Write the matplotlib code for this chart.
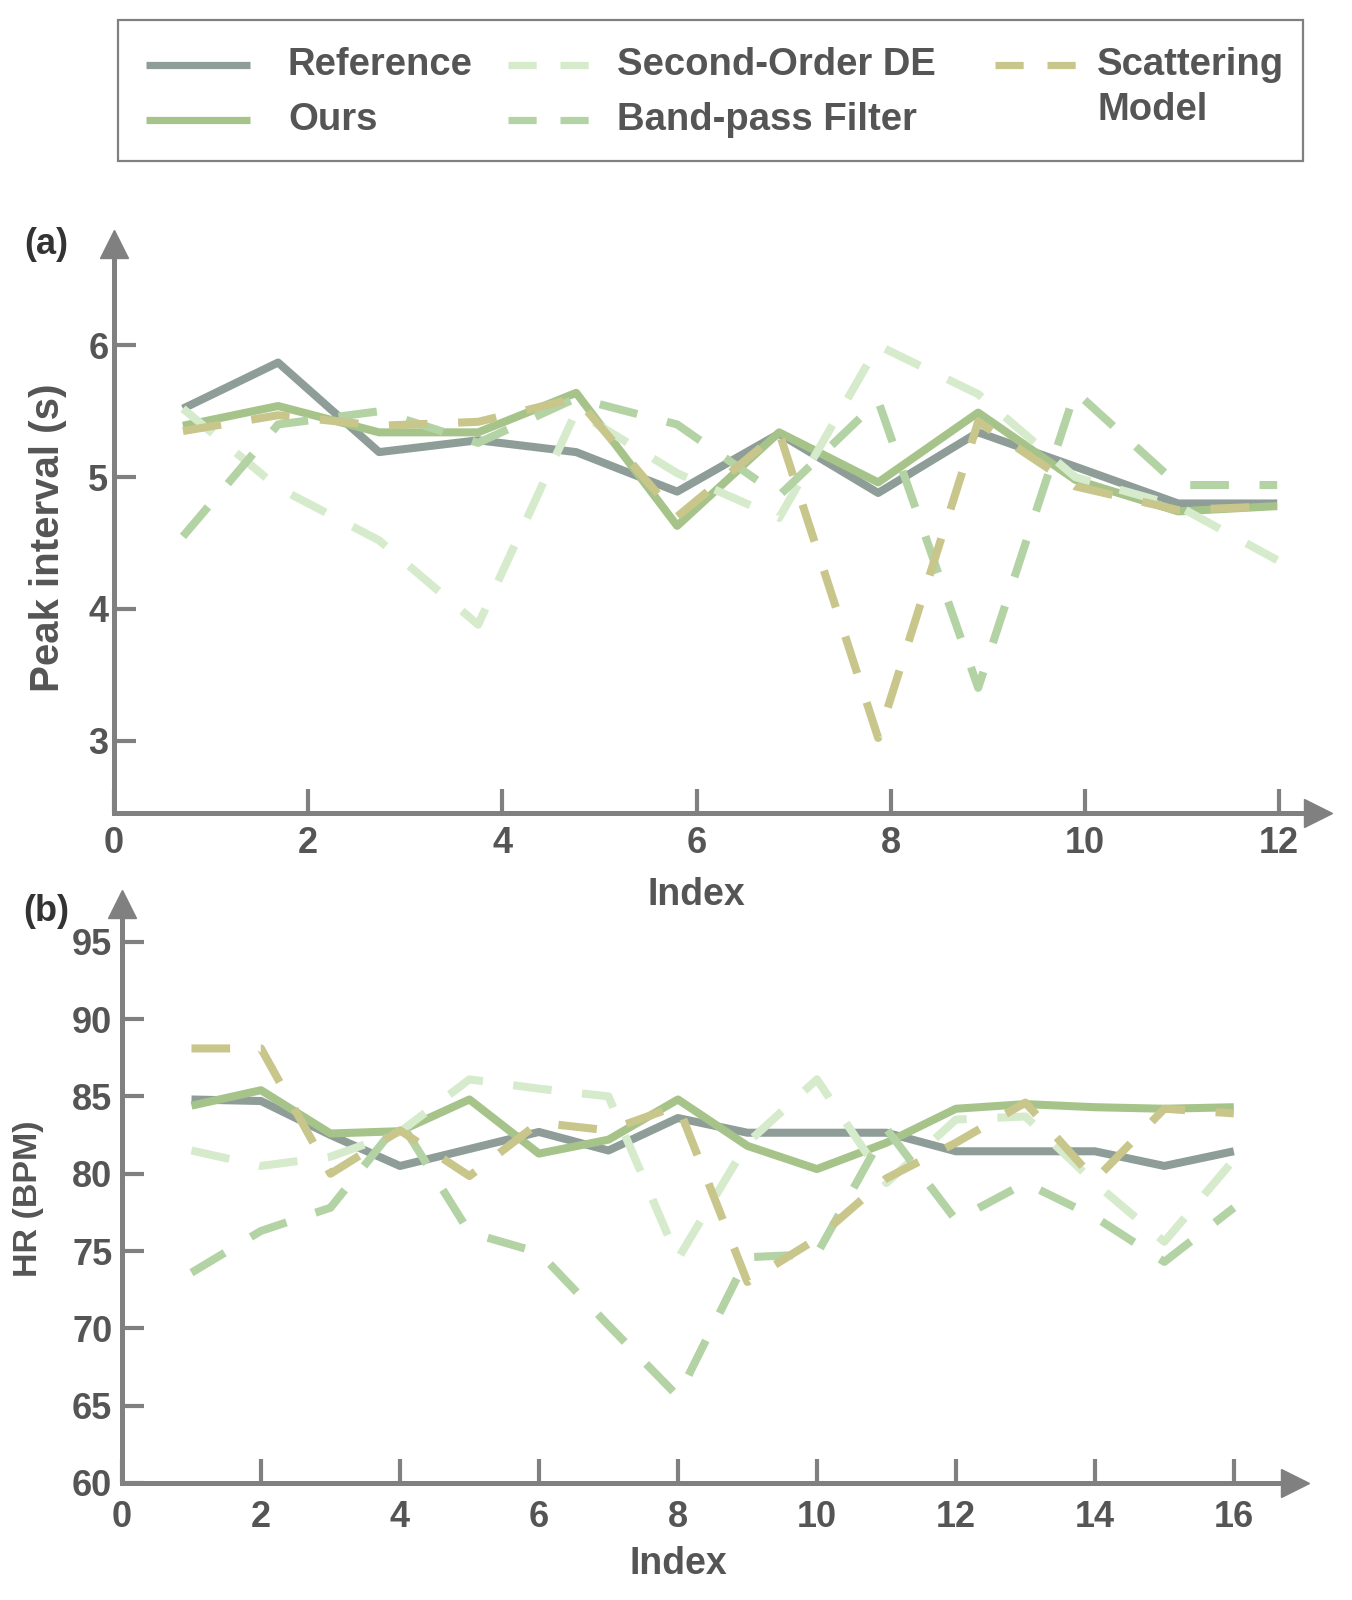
import matplotlib
matplotlib.use("Agg")
import matplotlib.pyplot as plt
from matplotlib.lines import Line2D
from matplotlib.patches import Rectangle

plt.rcParams['font.family'] = ['Liberation Sans', 'DejaVu Sans']
plt.rcParams['font.weight'] = 'bold'

# ---------------- data ----------------
series_names = ["Reference", "Ours", "Second-Order DE", "Band-pass Filter", "Scattering\nModel"]

# Panel (a): peak interval (s)
x_a = [0.71, 1.69, 2.73, 3.75, 4.76, 5.80, 6.85, 7.87, 8.90, 9.90, 10.96, 11.98]
ref_a = [5.52, 5.87, 5.19, 5.28, 5.19, 4.89, 5.33, 4.88, 5.34, 5.08, 4.80, 4.80]
ours_a = [5.39, 5.54, 5.34, 5.34, 5.64, 4.63, 5.34, 4.96, 5.49, 4.98, 4.74, 4.78]
sode_a = [5.52, 4.92, 4.52, 3.88, 5.50, 5.03, 4.69, 6.00, 5.63, 5.00, 4.78, 4.37]
bp_a = [4.55, 5.40, 5.50, 5.26, 5.60, 5.40, 4.86, 5.58, 3.40, 5.65, 4.94, 4.94]
scat_a = [5.35, 5.47, 5.39, 5.42, 5.60, 4.70, 5.34, 3.02, 5.42, 4.93, 4.75, 4.78]
xticks_a = [0, 2, 4, 6, 8, 10, 12]
yticks_a = [3, 4, 5, 6]

# Panel (b): heart rate (BPM)
x_b = [1, 2, 3, 4, 5, 6, 7, 8, 9, 10, 11, 12, 13, 14, 15, 16]
ref_b = [84.8, 84.7, 82.5, 80.5, 81.6, 82.7, 81.5, 83.6, 82.65, 82.65, 82.65, 81.45, 81.45, 81.45, 80.5, 81.45]
ours_b = [84.4, 85.4, 82.6, 82.75, 84.8, 81.3, 82.2, 84.8, 81.8, 80.3, 82.0, 84.2, 84.5, 84.3, 84.2, 84.3]
sode_b = [81.5, 80.5, 81.1, 82.7, 86.1, 85.5, 85.0, 74.5, 82.0, 86.1, 79.4, 83.5, 83.7, 79.4, 75.6, 80.9]
bp_b = [73.6, 76.3, 77.8, 83.4, 76.2, 74.9, 70.2, 65.6, 74.6, 74.8, 82.9, 77.0, 79.4, 77.2, 74.3, 77.8]
scat_b = [88.1, 88.1, 80.0, 82.8, 79.85, 83.3, 82.8, 84.4, 73.0, 75.8, 79.7, 82.0, 84.6, 79.6, 84.2, 83.9]
xticks_b = [0, 2, 4, 6, 8, 10, 12, 14, 16]
yticks_b = [60, 65, 70, 75, 80, 85, 90, 95]

# ---------------- style ----------------
colors = ["#8e9d98", "#a6c48a", "#d5ebcb", "#b3d3a5", "#c9c68c"]
solid = [True, True, False, False, False]
AX = "#808080"
TXT = "#555555"
LW = 5.8
DASH = (4.8, 3.8)

W, H = 1352, 1600
fig = plt.figure(figsize=(W / 100, H / 100), dpi=100)


def fx(p):
    return p / W


def fy(p):
    return 1 - p / H


def make_axes(left, right, top, bottom, xlim, ylim, xticks, yticks, xpad, ypad):
    ax = fig.add_axes([fx(left), fy(bottom), (right - left) / W, (bottom - top) / H])
    ax.set_xlim(*xlim)
    ax.set_ylim(*ylim)
    for s in ("top", "right"):
        ax.spines[s].set_visible(False)
    for s in ("left", "bottom"):
        ax.spines[s].set_color(AX)
        ax.spines[s].set_linewidth(3.6)
    ax.set_xticks(xticks)
    ax.set_yticks(yticks)
    ax.tick_params(axis='x', direction='in', length=17, width=3, color=AX,
                   labelsize=26, labelcolor=TXT, pad=xpad)
    ax.tick_params(axis='y', direction='in', length=16, width=3, color=AX,
                   labelsize=26, labelcolor=TXT, pad=ypad)
    ax.plot(1, 0, marker='>', ms=20, color=AX, transform=ax.transAxes, clip_on=False)
    ax.plot(0, 1, marker='^', ms=20, color=AX, transform=ax.transAxes, clip_on=False)
    return ax


def draw(ax, x, ys):
    for y, c, s in zip(ys, colors, solid):
        if s:
            ax.plot(x, y, color=c, lw=LW, solid_joinstyle='round', solid_capstyle='butt')
        else:
            ax.plot(x, y, color=c, lw=LW, linestyle=(0, DASH), dash_capstyle='butt')


ax_a = make_axes(114, 1318, 244, 813, (0, 12.40), (2.45, 6.77), xticks_a, yticks_a, 9, 4)
draw(ax_a, x_a, [ref_a, ours_a, sode_a, bp_a, scat_a])

ax_b = make_axes(122, 1295, 904, 1483, (0, 16.88), (60, 97.44), xticks_b, yticks_b, 12, 7)
draw(ax_b, x_b, [ref_b, ours_b, sode_b, bp_b, scat_b])

# axis labels and panel tags
fig.text(fx(48), fy(538), "Peak interval (s)", rotation=90, ha='center', va='center',
         fontsize=29, color=TXT)
fig.text(fx(696), fy(895), "Index", ha='center', va='center', fontsize=27, color=TXT)
fig.text(fx(28), fy(1199), "HR (BPM)", rotation=90, ha='center', va='center',
         fontsize=24.5, color=TXT)
fig.text(fx(678), fy(1564), "Index", ha='center', va='center', fontsize=27, color=TXT)
fig.text(fx(46), fy(245), "(a)", ha='center', va='center', fontsize=26, color="#333333")
fig.text(fx(46), fy(912), "(b)", ha='center', va='center', fontsize=26, color="#333333")

# legend (manual layout)
fig.add_artist(Rectangle((fx(118), fy(161)), (1303 - 118) / W, (161 - 20) / H,
                         transform=fig.transFigure, fill=False, edgecolor=AX, lw=1.6))
handle_pos = [(146, 65), (146, 120), (508, 65), (508, 120), (995, 65)]
text_pos = [(288, 65), (288, 120), (617, 65), (617, 120), (1097, 65)]
for name, c, s, (hx, hy), (tx, ty) in zip(series_names, colors, solid, handle_pos, text_pos):
    ls = '-' if s else (0, (3.9, 3.3))
    fig.add_artist(Line2D([fx(hx), fx(hx + 104)], [fy(hy), fy(hy)], transform=fig.transFigure,
                          color=c, lw=5.2, linestyle=ls, solid_capstyle='butt', dash_capstyle='butt'))
    lines = name.split("\n")
    for i, ln in enumerate(lines):
        fig.text(fx(tx), fy(ty + 45 * i), ln, ha='left', va='center', fontsize=27.5, color=TXT)

fig.savefig("out.png", dpi=100)
